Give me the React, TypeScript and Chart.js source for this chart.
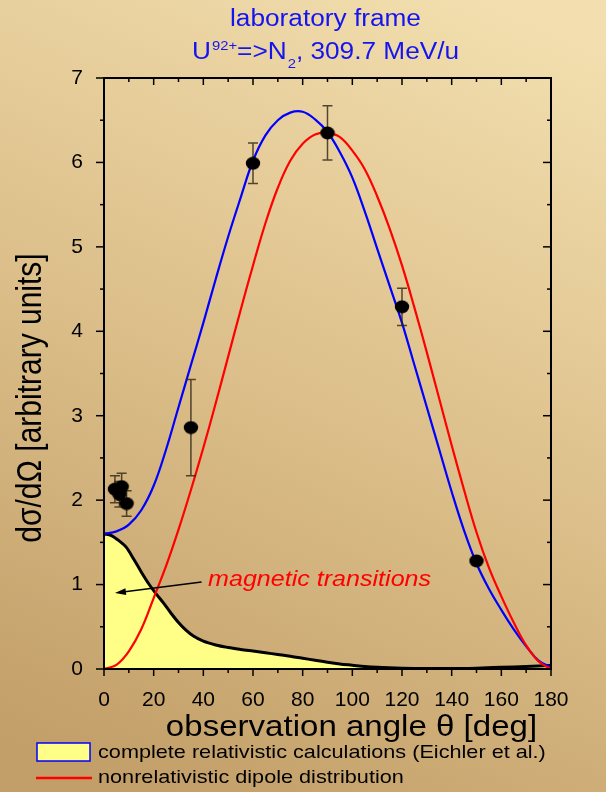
import React, { useEffect, useRef } from "react";
import { Chart, registerables } from "chart.js";

Chart.register(...registerables);

// Angular grid (deg) for the two theoretical curves
const curveAngles = [
  0, 5, 10, 15, 20, 25, 30, 35, 40, 45, 50, 55, 60, 65, 70, 75, 80, 85, 90,
  95, 100, 105, 110, 115, 120, 125, 130, 135, 140, 145, 150, 155, 160, 165,
  170, 175, 180,
];

// Complete relativistic calculation (Eichler et al.)
const relativisticCurve = [
  1.6, 1.63, 1.71, 1.88, 2.17, 2.6, 3.1, 3.6, 4.1, 4.62, 5.12, 5.58, 6.02,
  6.32, 6.5, 6.59, 6.6, 6.51, 6.36, 6.12, 5.82, 5.42, 4.98, 4.54, 4.1, 3.6,
  3.1, 2.6, 2.1, 1.64, 1.25, 0.95, 0.7, 0.47, 0.27, 0.1, 0.02,
];

// Nonrelativistic dipole distribution
const dipoleCurve = [
  0, 0.05, 0.21, 0.47, 0.84, 1.22, 1.65, 2.12, 2.62, 3.15, 3.7, 4.25, 4.78,
  5.28, 5.7, 6.02, 6.22, 6.33, 6.35, 6.3, 6.14, 5.92, 5.6, 5.22, 4.78, 4.28,
  3.75, 3.2, 2.65, 2.12, 1.62, 1.2, 0.86, 0.55, 0.28, 0.09, 0,
];

// Magnetic transition contribution
const magneticAngles = [
  0, 3, 6, 9, 12, 15, 18, 21, 24, 27, 30, 33, 36, 40, 45, 50, 55, 60, 65, 70,
  75, 80, 85, 90, 95, 100, 105, 110, 120, 130, 140, 150, 160, 170, 180,
];
const magneticCurve = [
  1.6, 1.58, 1.52, 1.44, 1.3, 1.15, 1.01, 0.89, 0.78, 0.66, 0.55, 0.46, 0.39,
  0.33, 0.285, 0.255, 0.232, 0.212, 0.192, 0.172, 0.152, 0.128, 0.103, 0.08,
  0.06, 0.045, 0.03, 0.02, 0.009, 0.005, 0.005, 0.01, 0.02, 0.03, 0.04,
];

// Measured points with their uncertainties
const measuredAngles = [4.4, 6.2, 7.1, 9.1, 35, 60, 90, 120, 150];
const measuredValues = [2.13, 2.07, 2.16, 1.96, 2.86, 5.99, 6.35, 4.29, 1.28];
const measuredErrors = [0.16, 0.15, 0.16, 0.15, 0.57, 0.24, 0.32, 0.22, 0];

// Axis ticks
const angleTicks = [0, 20, 40, 60, 80, 100, 120, 140, 160, 180];
const angleMinorTicks = [10, 30, 50, 70, 90, 110, 130, 150, 170];
const valueTicks = [0, 1, 2, 3, 4, 5, 6, 7];
const valueMinorTicks = [0.5, 1.5, 2.5, 3.5, 4.5, 5.5, 6.5];

// Annotation arrow for the magnetic part (data units)
const arrowFrom = { x: 39.3, y: 1.03 };
const arrowTo = { x: 4.4, y: 0.9 };
const annotationText = "magnetic transitions";
const annotationAnchor = { x: 41.9, y: 0.98 };

const FONT = "'Liberation Sans', Arial, sans-serif";
const STRETCH = 1.14;
const TITLE_BLUE = "#1414f0";

function pairs(xs: number[], ys: number[]) {
  return xs.map((x, i) => ({ x, y: ys[i] }));
}

function stretchedText(
  ctx: CanvasRenderingContext2D,
  text: string,
  x: number,
  y: number,
  font: string,
  color: string,
  align: CanvasTextAlign = "left"
): number {
  ctx.save();
  ctx.font = font;
  ctx.fillStyle = color;
  ctx.textAlign = align;
  ctx.textBaseline = "alphabetic";
  ctx.translate(x, y);
  ctx.scale(STRETCH, 1);
  ctx.fillText(text, 0, 0);
  const w = ctx.measureText(text).width * STRETCH;
  ctx.restore();
  return w;
}

function makeDot(): HTMLCanvasElement {
  const c = document.createElement("canvas");
  c.width = 16;
  c.height = 14;
  const g = c.getContext("2d")!;
  g.fillStyle = "#000";
  g.beginPath();
  g.ellipse(8, 7, 7.2, 6.4, 0, 0, Math.PI * 2);
  g.fill();
  return c;
}

const backgroundPlugin = {
  id: "pageBackground",
  beforeDraw(chart: any) {
    const { ctx, width, height } = chart;
    const grad = ctx.createLinearGradient(480, 0, 120, height);
    grad.addColorStop(0, "#f2deae");
    grad.addColorStop(0.5, "#dcbf8a");
    grad.addColorStop(1, "#c29e68");
    ctx.save();
    ctx.fillStyle = grad;
    ctx.fillRect(0, 0, width, height);
    ctx.restore();
  },
};

const errorBarPlugin = {
  id: "errorBars",
  beforeDatasetDraw(chart: any, args: any) {
    if (args.index !== 0) return;
    const { ctx, scales } = chart;
    const x = scales.x;
    const y = scales.y;
    ctx.save();
    ctx.strokeStyle = "rgba(45,35,20,0.8)";
    ctx.lineWidth = 1.5;
    measuredAngles.forEach((a, i) => {
      const e = measuredErrors[i];
      if (!e) return;
      const px = x.getPixelForValue(a);
      const top = y.getPixelForValue(measuredValues[i] + e);
      const bot = y.getPixelForValue(measuredValues[i] - e);
      ctx.beginPath();
      ctx.moveTo(px, top);
      ctx.lineTo(px, bot);
      ctx.moveTo(px - 5, top);
      ctx.lineTo(px + 5, top);
      ctx.moveTo(px - 5, bot);
      ctx.lineTo(px + 5, bot);
      ctx.stroke();
    });
    ctx.restore();
  },
};

const framePlugin = {
  id: "frameAndTicks",
  afterDatasetsDraw(chart: any) {
    const { ctx, chartArea: a, scales } = chart;
    const x = scales.x;
    const y = scales.y;
    ctx.save();
    ctx.strokeStyle = "#000";
    ctx.lineWidth = 1.5;
    const seg = (x1: number, y1: number, x2: number, y2: number) => {
      ctx.beginPath();
      ctx.moveTo(x1, y1);
      ctx.lineTo(x2, y2);
      ctx.stroke();
    };
    const xTick = (v: number, len: number) => {
      const px = x.getPixelForValue(v);
      seg(px, a.bottom, px, a.bottom + len);
      seg(px, a.top, px, a.top + len);
    };
    const yTick = (v: number, len: number) => {
      const py = y.getPixelForValue(v);
      seg(a.left - len, py, a.left, py);
      seg(a.right - len, py, a.right, py);
    };
    angleTicks.forEach((v) => xTick(v, 7));
    angleMinorTicks.forEach((v) => xTick(v, 4));
    valueTicks.forEach((v) => yTick(v, 8));
    valueMinorTicks.forEach((v) => yTick(v, 4));
    ctx.lineWidth = 2;
    ctx.strokeRect(a.left, a.top, a.right - a.left, a.bottom - a.top);

    // arrow pointing to the magnetic contribution
    const x1 = x.getPixelForValue(arrowFrom.x);
    const y1 = y.getPixelForValue(arrowFrom.y);
    const x2 = x.getPixelForValue(arrowTo.x);
    const y2 = y.getPixelForValue(arrowTo.y);
    const ang = Math.atan2(y2 - y1, x2 - x1);
    ctx.lineWidth = 1.5;
    seg(x1, y1, x2 - 6 * Math.cos(ang), y2 - 6 * Math.sin(ang));
    ctx.fillStyle = "#000";
    ctx.beginPath();
    ctx.moveTo(x2, y2);
    ctx.lineTo(
      x2 - 11 * Math.cos(ang) + 3.5 * Math.sin(ang),
      y2 - 11 * Math.sin(ang) - 3.5 * Math.cos(ang)
    );
    ctx.lineTo(
      x2 - 11 * Math.cos(ang) - 3.5 * Math.sin(ang),
      y2 - 11 * Math.sin(ang) + 3.5 * Math.cos(ang)
    );
    ctx.closePath();
    ctx.fill();

    stretchedText(
      ctx,
      annotationText,
      x.getPixelForValue(annotationAnchor.x),
      y.getPixelForValue(annotationAnchor.y),
      `italic 22px ${FONT}`,
      "#ff0000"
    );
    ctx.restore();
  },
};

const textPlugin = {
  id: "pageTexts",
  afterDraw(chart: any) {
    const { ctx } = chart;
    ctx.save();
    // title
    stretchedText(ctx, "laboratory frame", 325.5, 26, `23px ${FONT}`, TITLE_BLUE, "center");
    let cx = 192;
    cx += stretchedText(ctx, "U", cx, 59, `23px ${FONT}`, TITLE_BLUE);
    cx += stretchedText(ctx, "92+", cx + 1, 49.5, `13px ${FONT}`, TITLE_BLUE) + 1;
    cx += stretchedText(ctx, "=>N", cx, 59, `23px ${FONT}`, TITLE_BLUE);
    cx += stretchedText(ctx, "2", cx + 1, 68, `13px ${FONT}`, TITLE_BLUE) + 1;
    stretchedText(ctx, ", 309.7 MeV/u", cx, 59, `23px ${FONT}`, TITLE_BLUE);

    // axis titles
    stretchedText(ctx, "observation angle \u03b8 [deg]", 351.5, 736, `29px ${FONT}`, "#000", "center");
    ctx.save();
    ctx.translate(41, 398);
    ctx.rotate(-Math.PI / 2);
    ctx.scale(1, STRETCH);
    ctx.font = `30px ${FONT}`;
    ctx.fillStyle = "#000";
    ctx.textAlign = "center";
    ctx.textBaseline = "alphabetic";
    ctx.fillText("d\u03c3/d\u03a9 [arbitrary units]", 0, 0);
    ctx.restore();

    // legend
    ctx.fillStyle = "#ffff88";
    ctx.fillRect(37, 743, 53, 18);
    ctx.strokeStyle = "#0000ff";
    ctx.lineWidth = 1.5;
    ctx.strokeRect(37, 743, 53, 18);
    stretchedText(ctx, "complete relativistic calculations (Eichler et al.)", 98, 758, `19px ${FONT}`, "#000");
    ctx.strokeStyle = "#ff0000";
    ctx.lineWidth = 2.5;
    ctx.beginPath();
    ctx.moveTo(36, 778);
    ctx.lineTo(92, 778);
    ctx.stroke();
    stretchedText(ctx, "nonrelativistic dipole distribution", 98, 783, `19px ${FONT}`, "#000");
    ctx.restore();
  },
};

export default function App() {
  const canvasRef = useRef<HTMLCanvasElement | null>(null);

  useEffect(() => {
    const canvas = canvasRef.current;
    if (!canvas) return;
    const dot = makeDot();
    const chart = new Chart(canvas, {
      type: "scatter",
      data: {
        datasets: [
          {
            label: "measured",
            data: pairs(measuredAngles, measuredValues),
            pointStyle: dot as any,
            pointRadius: 7,
            showLine: false,
            order: 0,
          },
          {
            label: "nonrelativistic dipole distribution",
            data: pairs(curveAngles, dipoleCurve),
            showLine: true,
            borderColor: "#ff0000",
            borderWidth: 2.2,
            pointRadius: 0,
            tension: 0.4,
            fill: false,
            order: 1,
          },
          {
            label: "complete relativistic calculations",
            data: pairs(curveAngles, relativisticCurve),
            showLine: true,
            borderColor: "#0000ff",
            borderWidth: 2.2,
            pointRadius: 0,
            tension: 0.4,
            fill: false,
            order: 2,
          },
          {
            label: "magnetic transitions",
            data: pairs(magneticAngles, magneticCurve),
            showLine: true,
            borderColor: "#000000",
            borderWidth: 3,
            backgroundColor: "#ffff88",
            pointRadius: 0,
            cubicInterpolationMode: "monotone",
            fill: "origin",
            order: 3,
          },
        ],
      },
      options: {
        animation: false,
        responsive: false,
        devicePixelRatio: 1,
        layout: { padding: { top: 78, right: 55, left: 0, bottom: 0 } },
        plugins: {
          legend: { display: false },
          tooltip: { enabled: false },
          title: { display: false },
        },
        scales: {
          x: {
            type: "linear",
            min: 0,
            max: 180,
            grid: { display: false },
            border: { display: false },
            afterBuildTicks: (s: any) => {
              s.ticks = angleTicks.map((value) => ({ value }));
            },
            afterFit: (s: any) => {
              s.height = 123;
            },
            ticks: {
              color: "#000",
              padding: 11,
              font: { family: FONT, size: 21 },
              maxRotation: 0,
              autoSkip: false,
            },
          },
          y: {
            type: "linear",
            min: 0,
            max: 7,
            grid: { display: false },
            border: { display: false },
            afterBuildTicks: (s: any) => {
              s.ticks = valueTicks.map((value) => ({ value }));
            },
            afterFit: (s: any) => {
              s.width = 104;
            },
            ticks: {
              color: "#000",
              padding: 13,
              font: { family: FONT, size: 21 },
              autoSkip: false,
            },
          },
        },
      },
      plugins: [backgroundPlugin, errorBarPlugin, framePlugin, textPlugin],
    });
    return () => chart.destroy();
  }, []);

  return (
    <div style={{ position: "fixed", left: 0, top: 0, width: 606, height: 792 }}>
      <canvas ref={canvasRef} width={606} height={792} style={{ display: "block" }} />
    </div>
  );
}
